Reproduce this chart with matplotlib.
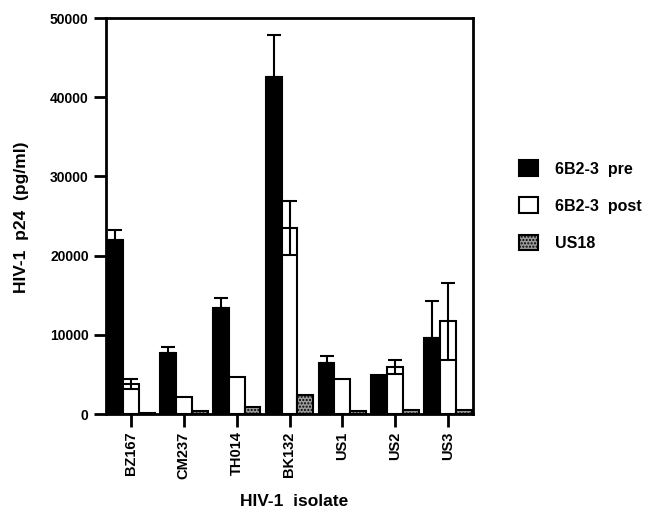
import matplotlib
matplotlib.use("Agg")
import matplotlib.pyplot as plt
import numpy as np

plt.rcParams['font.family'] = ['Liberation Sans', 'DejaVu Sans']
plt.rcParams['font.weight'] = 'bold'

isolates = ["BZ167", "CM237", "TH014", "BK132", "US1", "US2", "US3"]
pre = [22000, 7700, 13400, 42600, 6500, 4900, 9600]
pre_err = [1200, 800, 1200, 5300, 800, 0, 4700]
post = [3800, 2100, 4700, 23500, 4400, 5900, 11700]
post_err = [600, 0, 0, 3400, 0, 900, 4900]
us18 = [100, 380, 900, 2450, 420, 550, 450]
yticks = [0, 10000, 20000, 30000, 40000, 50000]
labels = ["6B2-3  pre", "6B2-3  post", "US18"]

fig = plt.figure(figsize=(6.52, 5.17), dpi=100)
ax = fig.add_axes([106/652, 1-414/517, (473-106)/652, (414-18)/517])

x = np.arange(len(isolates))
w = 0.3
b1 = ax.bar(x - w, pre, w, color='black', edgecolor='black', linewidth=1.5, label=labels[0])
b2 = ax.bar(x, post, w, color='white', edgecolor='black', linewidth=1.5, label=labels[1])
b3 = ax.bar(x + w, us18, w, color='#9a9a9a', edgecolor='black', linewidth=1.5,
            hatch='.....', label=labels[2])

for xi, v, e in zip(x - w, pre, pre_err):
    if e > 0:
        ax.errorbar(xi, v, yerr=[[0], [e]], fmt='none', ecolor='black',
                    elinewidth=1.5, capsize=5, capthick=1.5)
for xi, v, e in zip(x, post, post_err):
    if e > 0:
        ax.errorbar(xi, v, yerr=[[e], [e]], fmt='none', ecolor='black',
                    elinewidth=1.5, capsize=5, capthick=1.5)

ax.set_xlim(-0.47, 6.47)
ax.set_ylim(0, 50000)
ax.set_yticks(yticks)
ax.set_yticklabels([str(t) for t in yticks], fontsize=10, fontweight='bold')
ax.set_xticks(x)
ax.set_xticklabels(isolates, rotation=90, fontsize=10.5, fontweight='bold')
ax.tick_params(axis='both', direction='out', length=9, width=2, colors='black')
for s in ax.spines.values():
    s.set_linewidth(2)

fig.text(22/652, 1-217/517, "HIV-1  p24  (pg/ml)", rotation=90, ha='center', va='center',
         fontsize=12.5, fontweight='bold')
fig.text(294/652, 1-501/517, "HIV-1  isolate", ha='center', va='center',
         fontsize=12.5, fontweight='bold')

leg = fig.legend(handles=[b1, b2, b3], labels=labels, loc='upper left',
                 bbox_to_anchor=(505/652, 1-146/517), frameon=False,
                 fontsize=11.5, handlelength=1.15, handleheight=1.15,
                 labelspacing=1.3, handletextpad=1.1)
for t in leg.get_texts():
    t.set_fontweight('bold')

fig.savefig("out.png", dpi=100)
